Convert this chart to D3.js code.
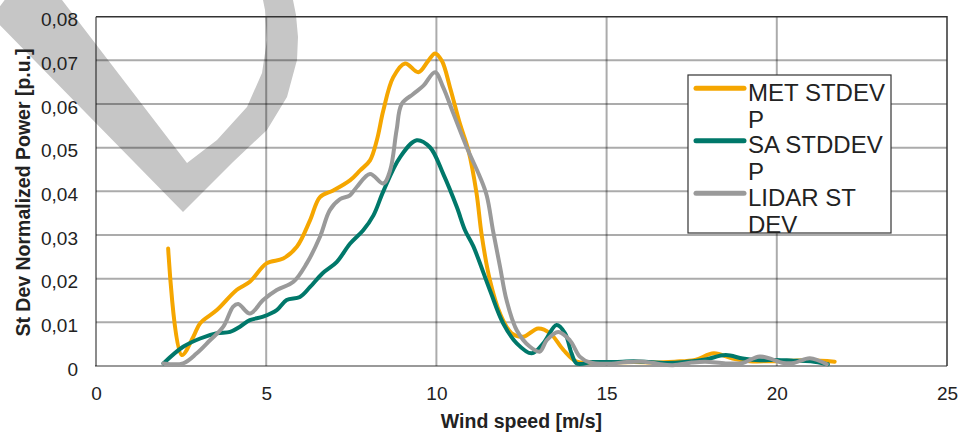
<!DOCTYPE html>
<html>
<head>
<meta charset="utf-8">
<script src="https://cdn.jsdelivr.net/npm/d3@7"></script>
<style>
  html, body { margin: 0; padding: 0; background: #fff; }
  svg { display: block; font-family: "Liberation Sans", Arial, sans-serif; }
</style>
</head>
<body>
<div id="chart"></div>
<script>
// wind speed [m/s], st dev normalized power [p.u.]
const metPoints = [
  [2.12, 0.0269], [2.52, 0.0025], [2.86, 0.0067], [3.06, 0.0098], [3.55, 0.0128],
  [4.13, 0.0174], [4.52, 0.0193], [5.01, 0.0235], [5.50, 0.0246], [5.90, 0.0273],
  [6.29, 0.0334], [6.58, 0.0387], [6.97, 0.0402], [7.46, 0.0425], [7.76, 0.0448],
  [8.05, 0.0471], [8.25, 0.0517], [8.44, 0.0585], [8.73, 0.0661], [9.08, 0.0693],
  [9.47, 0.0673], [9.76, 0.0699], [9.96, 0.0716], [10.16, 0.0699], [10.40, 0.0638],
  [10.69, 0.0555], [10.94, 0.0494], [11.18, 0.0395], [11.33, 0.0300], [11.57, 0.0197],
  [11.87, 0.0120], [12.21, 0.0075], [12.55, 0.0067], [12.99, 0.0086], [13.34, 0.0075],
  [13.73, 0.0037], [14.12, 0.0010], [14.6, 0.0008], [15.2, 0.0008], [15.8, 0.0009],
  [16.4, 0.0008], [17.0, 0.0010], [17.6, 0.0014], [18.15, 0.0029], [18.7, 0.0017],
  [19.2, 0.0011], [19.8, 0.0011], [20.4, 0.0012], [21.0, 0.0013], [21.7, 0.0010]
];
const saPoints = [
  [1.98, 0.0006], [2.56, 0.0044], [3.06, 0.0063], [3.55, 0.0075], [3.94, 0.0078],
  [4.23, 0.0090], [4.52, 0.0105], [4.91, 0.0113], [5.31, 0.0128], [5.60, 0.0151],
  [5.99, 0.0158], [6.29, 0.0181], [6.65, 0.0212], [7.07, 0.0238], [7.46, 0.0280],
  [7.85, 0.0311], [8.15, 0.0345], [8.44, 0.0400], [8.93, 0.0478], [9.42, 0.0517],
  [9.81, 0.0501], [10.20, 0.0440], [10.60, 0.0364], [10.84, 0.0311], [11.08, 0.0275],
  [11.57, 0.0174], [11.96, 0.0098], [12.36, 0.0052], [12.80, 0.0029], [13.14, 0.0052],
  [13.53, 0.0094], [13.78, 0.0075], [13.97, 0.0029], [14.12, 0.0006], [14.6, 0.0009],
  [15.2, 0.0009], [15.8, 0.0011], [16.3, 0.0009], [16.8, 0.0007], [17.3, 0.0009],
  [17.9, 0.0015], [18.5, 0.0025], [19.0, 0.0017], [19.5, 0.0013], [20.0, 0.0014],
  [20.5, 0.0012], [21.0, 0.0011], [21.5, 0.0004]
];
const lidarPoints = [
  [1.98, 0.0006], [2.56, 0.0006], [2.96, 0.0029], [3.35, 0.0059], [3.74, 0.0090],
  [4.03, 0.0136], [4.18, 0.0142], [4.52, 0.0120], [4.91, 0.0151], [5.31, 0.0174],
  [5.80, 0.0193], [6.19, 0.0235], [6.58, 0.0296], [6.87, 0.0357], [7.17, 0.0382],
  [7.46, 0.0391], [7.66, 0.0410], [8.05, 0.0440], [8.44, 0.0418], [8.64, 0.0448],
  [8.83, 0.0540], [8.98, 0.0600], [9.32, 0.0623], [9.62, 0.0642], [9.96, 0.0673],
  [10.20, 0.0638], [10.50, 0.0578], [10.89, 0.0501], [11.28, 0.0433], [11.48, 0.0390],
  [11.67, 0.0307], [11.87, 0.0227], [12.06, 0.0151], [12.36, 0.0082], [12.75, 0.0044],
  [13.04, 0.0033], [13.24, 0.0059], [13.58, 0.0078], [13.92, 0.0059], [14.22, 0.0021],
  [14.51, 0.0008], [15.0, 0.0005], [15.6, 0.0009], [16.1, 0.0010], [16.5, 0.0005],
  [16.95, 0.0002], [17.5, 0.0008], [17.9, 0.0010], [18.5, 0.0006], [19.0, 0.0007],
  [19.5, 0.0022], [20.2, 0.0007], [20.5, 0.0007], [20.97, 0.0018], [21.47, 0.0004]
];

const seriesNames = ["MET STDEV P", "SA STDDEV P", "LIDAR ST DEV"];
const legendLines = [["MET STDEV", "P"], ["SA STDDEV", "P"], ["LIDAR ST", "DEV"]];
const seriesColors = ["#f5a600", "#00786a", "#9a9a9a"];
const xTicks = [0, 5, 10, 15, 20, 25];
const yTicks = [0, 0.01, 0.02, 0.03, 0.04, 0.05, 0.06, 0.07, 0.08];

const width = 960, height = 434;
const plot = { left: 96, right: 947, top: 16.7, bottom: 366 };

const svg = d3.select("#chart").append("svg")
  .attr("width", width)
  .attr("height", height);

const x = d3.scaleLinear().domain([0, 25]).range([plot.left, plot.right]);
const y = d3.scaleLinear().domain([0, 0.08]).range([plot.bottom, plot.top]);

// watermark (heart outline, top left)
const watermark = [
  [-8, 17], [183, 212], [233, 162], [267, 130], [287, 97], [297, 60], [298, 37], [296, 15], [292, -5],
  [262, -5], [265, 10], [267, 40], [262, 73], [247, 107], [217, 140], [187, 163], [62, 0], [33, -38]
];
svg.append("path")
  .attr("d", d3.line()(watermark) + "Z")
  .attr("fill", "#c6c6c6");

// grid lines
const gridColor = "rgba(0,0,0,0.33)";
svg.append("g")
  .selectAll("line")
  .data(yTicks.filter(d => d > 0 && d < 0.08))
  .join("line")
  .attr("x1", plot.left).attr("x2", plot.right)
  .attr("y1", d => y(d)).attr("y2", d => y(d))
  .attr("stroke", gridColor)
  .attr("stroke-width", 2);

svg.append("g")
  .selectAll("line")
  .data(xTicks.filter(d => d > 0 && d < 25))
  .join("line")
  .attr("x1", d => x(d)).attr("x2", d => x(d))
  .attr("y1", plot.top).attr("y2", plot.bottom)
  .attr("stroke", gridColor)
  .attr("stroke-width", 2);

// axis lines
svg.append("line")
  .attr("x1", plot.left).attr("x2", plot.left)
  .attr("y1", plot.top).attr("y2", plot.bottom)
  .attr("stroke", "rgba(0,0,0,0.45)")
  .attr("stroke-width", 2);
svg.append("line")
  .attr("x1", plot.left - 1).attr("x2", plot.right)
  .attr("y1", plot.bottom).attr("y2", plot.bottom)
  .attr("stroke", "rgba(0,0,0,0.4)")
  .attr("stroke-width", 2);

// top and right border
svg.append("path")
  .attr("d", `M${plot.left},${plot.top}H${plot.right}V${plot.bottom}`)
  .attr("fill", "none")
  .attr("stroke", "#333")
  .attr("stroke-width", 1.5);

// axes text
const fmt = d => d === 0 ? "0" : d3.format(".2f")(d).replace(".", ",");

const yAxis = svg.append("g")
  .attr("transform", `translate(${plot.left},0)`)
  .call(d3.axisLeft(y).tickValues(yTicks).tickFormat(fmt).tickSize(0).tickPadding(18));
yAxis.select(".domain").remove();
yAxis.selectAll("text")
  .attr("dy", "0.48em")
  .style("font-size", "19px")
  .style("font-family", "'Liberation Sans', Arial, sans-serif")
  .attr("fill", "#222");

const xAxis = svg.append("g")
  .attr("transform", `translate(0,${plot.bottom})`)
  .call(d3.axisBottom(x).tickValues(xTicks).tickFormat(d3.format("d")).tickSize(0).tickPadding(21));
xAxis.select(".domain").remove();
xAxis.selectAll("text")
  .style("font-size", "19px")
  .style("font-family", "'Liberation Sans', Arial, sans-serif")
  .attr("fill", "#222");

svg.append("text")
  .attr("x", (plot.left + plot.right) / 2)
  .attr("y", 428)
  .attr("text-anchor", "middle")
  .style("font-size", "19.5px")
  .style("font-weight", "bold")
  .attr("fill", "#222")
  .text("Wind speed [m/s]");

svg.append("text")
  .attr("transform", "translate(30,192.5) rotate(-90)")
  .attr("text-anchor", "middle")
  .style("font-size", "19.5px")
  .style("font-weight", "bold")
  .attr("fill", "#222")
  .text("St Dev Normalized Power [p.u.]");

// series lines
const line = d3.line()
  .x(d => x(d[0]))
  .y(d => y(d[1]))
  .curve(d3.curveCatmullRom.alpha(0.5));

[metPoints, saPoints, lidarPoints].forEach((pts, i) => {
  svg.append("path")
    .datum(pts)
    .attr("fill", "none")
    .attr("stroke", seriesColors[i])
    .attr("stroke-width", 4)
    .attr("stroke-linejoin", "round")
    .attr("stroke-linecap", "round")
    .attr("d", line);
});

// legend
const lg = { x: 688, y: 75, w: 203, h: 158 };
svg.append("clipPath")
  .attr("id", "legend-clip")
  .append("rect")
  .attr("x", lg.x).attr("y", lg.y).attr("width", lg.w).attr("height", lg.h);

svg.append("rect")
  .attr("x", lg.x).attr("y", lg.y)
  .attr("width", lg.w).attr("height", lg.h)
  .attr("fill", "#fff")
  .attr("stroke", "#333")
  .attr("stroke-width", 1.2);

const legend = svg.append("g").attr("clip-path", "url(#legend-clip)");
seriesNames.forEach((name, i) => {
  const ly = 88.3 + i * 52.5;
  legend.append("line")
    .attr("x1", 696).attr("x2", 744)
    .attr("y1", ly).attr("y2", ly)
    .attr("stroke", seriesColors[i])
    .attr("stroke-width", 5)
    .attr("stroke-linecap", "round");
  const t = legend.append("text")
    .attr("x", 748)
    .attr("y", ly + 12.3)
    .style("font-size", "24px")
    .attr("fill", "#222");
  legendLines[i].forEach((part, j) => {
    t.append("tspan")
      .attr("x", 748)
      .attr("dy", j === 0 ? 0 : 27)
      .text(part);
  });
});
</script>
</body>
</html>
